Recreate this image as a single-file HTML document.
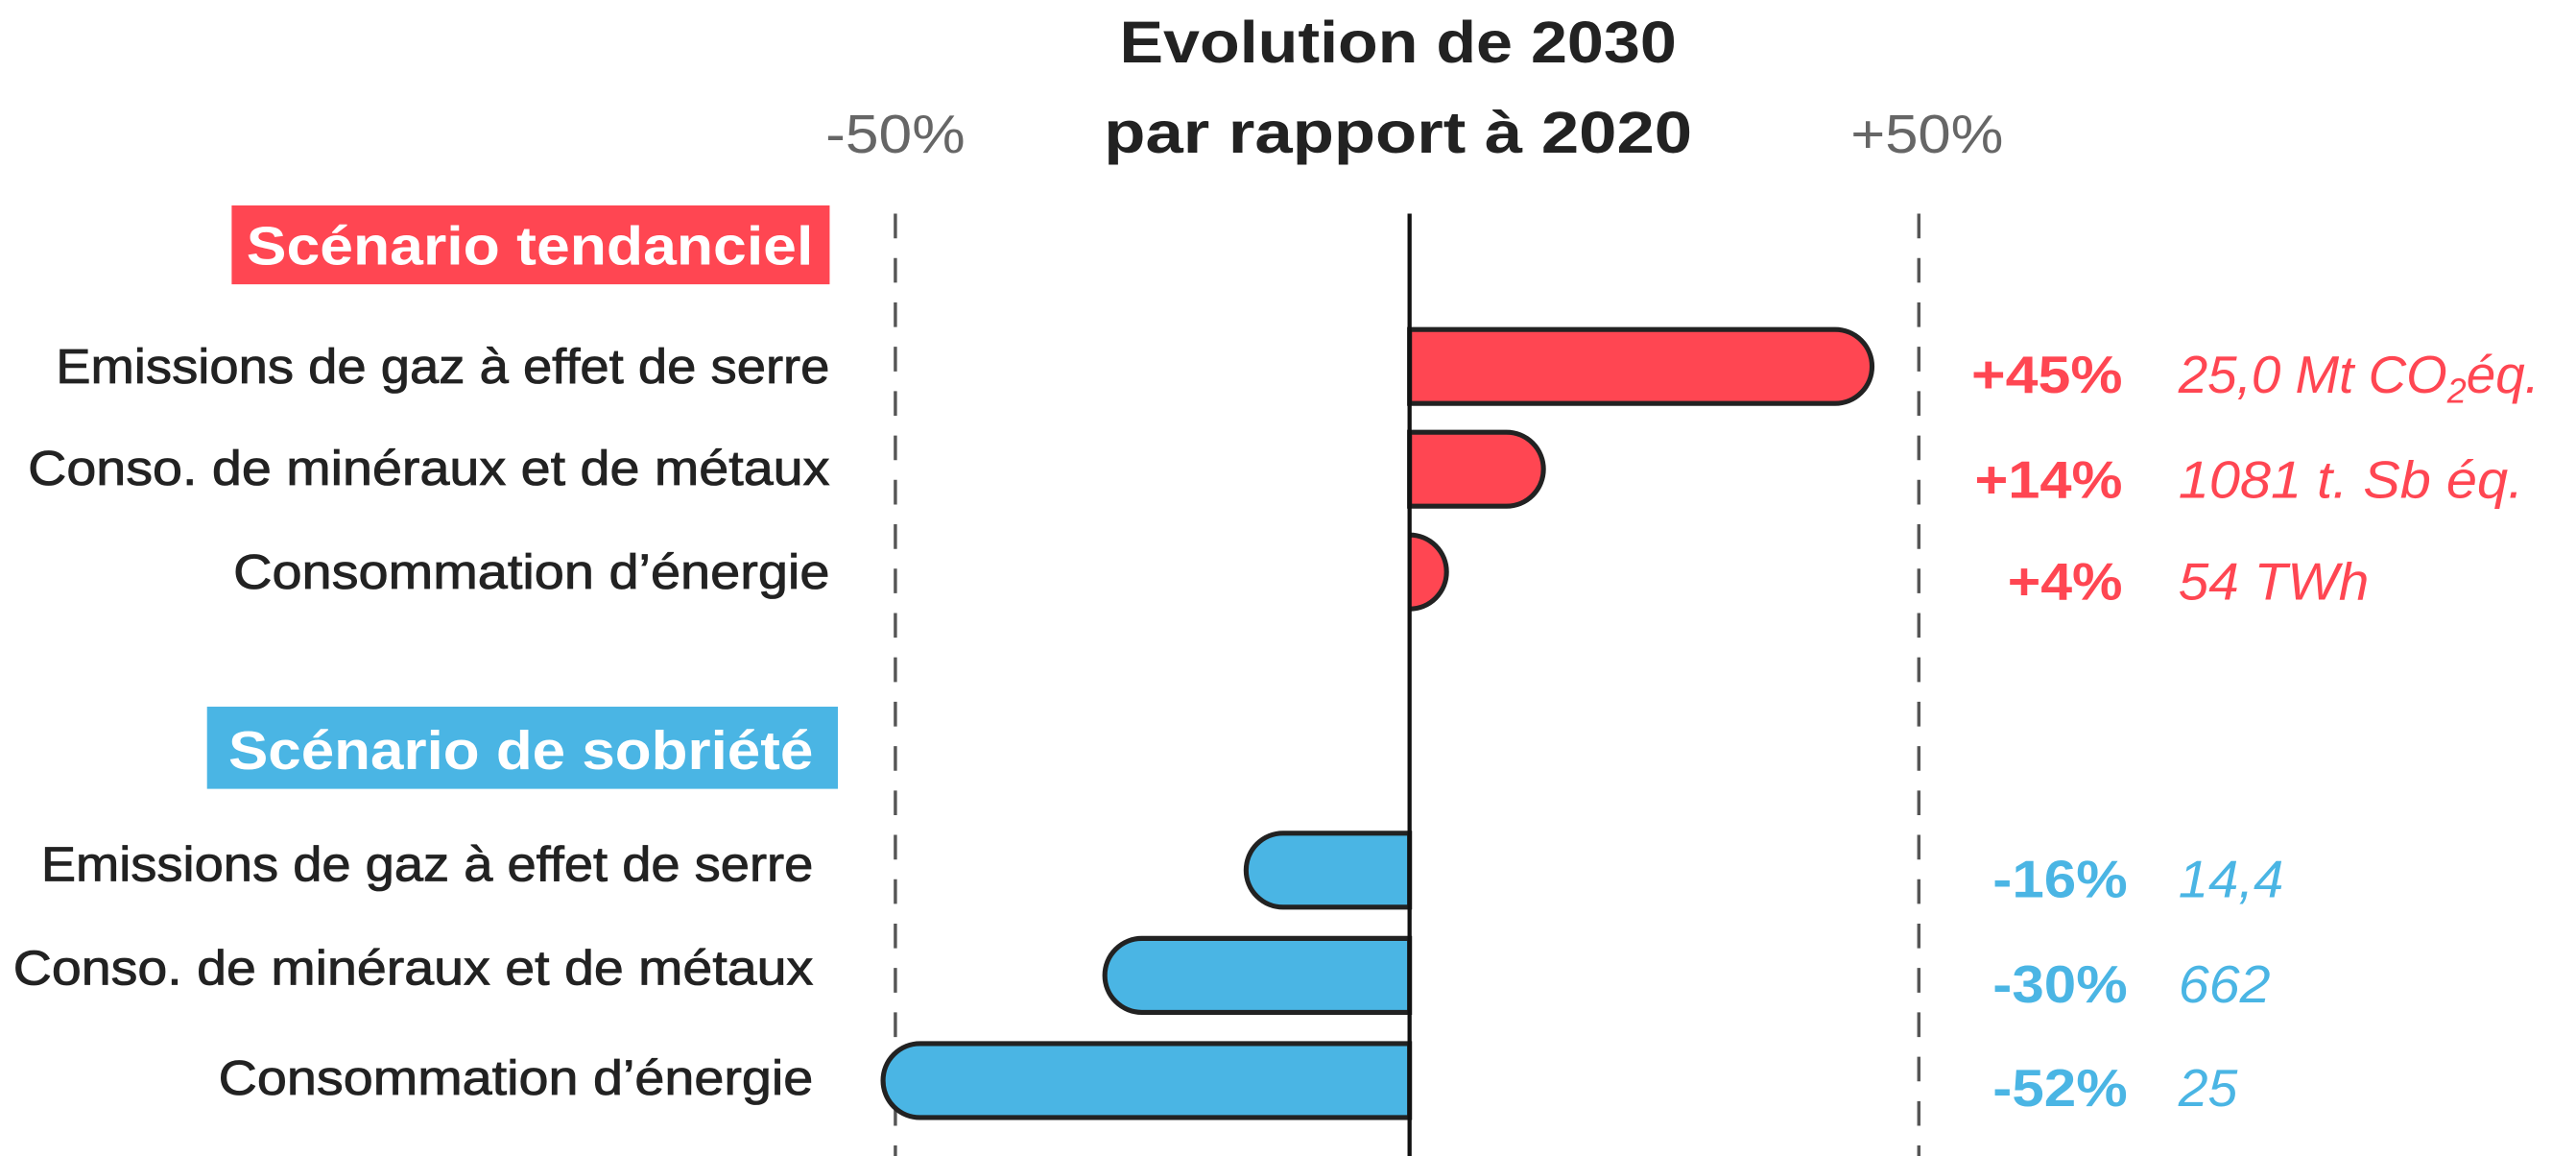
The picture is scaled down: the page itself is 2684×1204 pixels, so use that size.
<!DOCTYPE html>
<html><head><meta charset="utf-8"><style>
html,body{margin:0;padding:0;background:#fff;}
svg{display:block;}
text{font-family:"Liberation Sans",sans-serif;}
</style></head><body>
<svg width="2684" height="1204" viewBox="0 0 1568 703.4" xmlns="http://www.w3.org/2000/svg">
<rect width="1568" height="703.4" fill="#fff"/>
<!-- title -->
<text x="851" y="38" text-anchor="middle" font-size="36" font-weight="bold" fill="#222" textLength="339" lengthAdjust="spacingAndGlyphs">Evolution de 2030</text>
<text x="851" y="93" text-anchor="middle" font-size="36" font-weight="bold" fill="#222" textLength="358" lengthAdjust="spacingAndGlyphs">par rapport à 2020</text>
<text x="545" y="93" text-anchor="middle" font-size="33" fill="#666" textLength="85" lengthAdjust="spacingAndGlyphs">-50%</text>
<text x="1173" y="93" text-anchor="middle" font-size="33" fill="#666" textLength="93" lengthAdjust="spacingAndGlyphs">+50%</text>
<!-- grid -->
<line x1="545" y1="130" x2="545" y2="703.4" stroke="#555" stroke-width="2" stroke-dasharray="15 12"/>
<line x1="1168" y1="130" x2="1168" y2="703.4" stroke="#555" stroke-width="2" stroke-dasharray="15 12"/>
<!-- red section -->
<rect x="141" y="125" width="364" height="48" fill="#ff4652"/>
<text x="495" y="161" text-anchor="end" font-size="33" font-weight="bold" fill="#fff" textLength="345" lengthAdjust="spacingAndGlyphs">Scénario tendanciel</text>
<g stroke="#222" stroke-width="3" fill="#ff4652">
<path d="M858 200.5 H1117 A22.5 22.5 0 0 1 1117 245.5 H858 Z"/>
<path d="M858 263 H917 A22.5 22.5 0 0 1 917 308 H858 Z"/>
</g>
<path d="M858 325.5 A22.5 22.5 0 0 1 858 370.5" fill="#ff4652" stroke="#222" stroke-width="3"/>
<g font-size="30" fill="#222" stroke="#222" stroke-width="0.5" text-anchor="end" lengthAdjust="spacingAndGlyphs">
<text x="505" y="233" textLength="471" lengthAdjust="spacingAndGlyphs">Emissions de gaz à effet de serre</text>
<text x="505" y="295" textLength="488" lengthAdjust="spacingAndGlyphs">Conso. de minéraux et de métaux</text>
<text x="505" y="358" textLength="363" lengthAdjust="spacingAndGlyphs">Consommation d’énergie</text>
<text x="495" y="536" textLength="470" lengthAdjust="spacingAndGlyphs">Emissions de gaz à effet de serre</text>
<text x="495" y="599" textLength="487" lengthAdjust="spacingAndGlyphs">Conso. de minéraux et de métaux</text>
<text x="495" y="666" textLength="362" lengthAdjust="spacingAndGlyphs">Consommation d’énergie</text>
</g>
<g font-size="32" font-weight="bold" fill="#ff4652" text-anchor="end">
<text x="1292" y="239" textLength="92" lengthAdjust="spacingAndGlyphs">+45%</text>
<text x="1292" y="303" textLength="90" lengthAdjust="spacingAndGlyphs">+14%</text>
<text x="1292" y="365" textLength="70" lengthAdjust="spacingAndGlyphs">+4%</text>
</g>
<g font-size="32" font-style="italic" fill="#ff4652">
<text x="1326" y="239">25,0 Mt CO<tspan font-size="21" dy="6">2</tspan><tspan dy="-6">éq.</tspan></text>
<text x="1326" y="303" textLength="210" lengthAdjust="spacingAndGlyphs">1081 t. Sb éq.</text>
<text x="1326" y="365" textLength="116" lengthAdjust="spacingAndGlyphs">54 TWh</text>
</g>
<!-- blue section -->
<rect x="126" y="430" width="384" height="50" fill="#4ab5e4"/>
<text x="495" y="468" text-anchor="end" font-size="33" font-weight="bold" fill="#fff" textLength="356" lengthAdjust="spacingAndGlyphs">Scénario de sobriété</text>
<g stroke="#222" stroke-width="3" fill="#4ab5e4">
<path d="M858 507 H781 A22.5 22.5 0 0 0 781 552 H858 Z"/>
<path d="M858 571 H695 A22.5 22.5 0 0 0 695 616 H858 Z"/>
<path d="M858 635 H560 A22.5 22.5 0 0 0 560 680 H858 Z"/>
</g>
<line x1="858" y1="130" x2="858" y2="703.4" stroke="#111" stroke-width="2.5"/>
<g font-size="32" font-weight="bold" fill="#4ab5e4" text-anchor="end">
<text x="1295" y="546" textLength="82" lengthAdjust="spacingAndGlyphs">-16%</text>
<text x="1295" y="610" textLength="82" lengthAdjust="spacingAndGlyphs">-30%</text>
<text x="1295" y="673" textLength="82" lengthAdjust="spacingAndGlyphs">-52%</text>
</g>
<g font-size="32" font-style="italic" fill="#4ab5e4">
<text x="1326" y="546" textLength="64" lengthAdjust="spacingAndGlyphs">14,4</text>
<text x="1326" y="610" textLength="56" lengthAdjust="spacingAndGlyphs">662</text>
<text x="1326" y="673" textLength="36" lengthAdjust="spacingAndGlyphs">25</text>
</g>
</svg>
</body></html>
